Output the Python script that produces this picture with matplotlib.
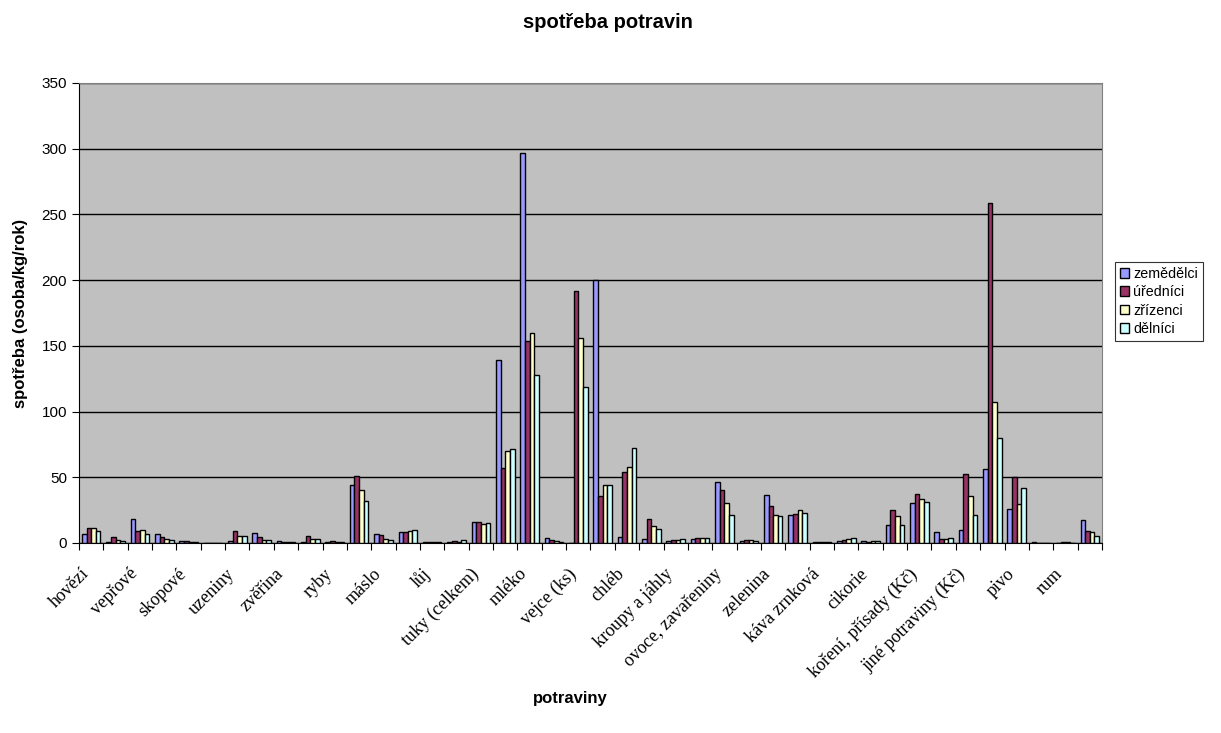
import matplotlib
matplotlib.use('Agg')
import matplotlib.pyplot as plt
import matplotlib.transforms as mtransforms
import numpy as np

plt.rcParams['font.family'] = ['Liberation Sans', 'DejaVu Sans']

# labels only on every other category, as in the source
labels = ['hovězí', 'vepřové', 'skopové', 'uzeniny', 'zvěřina', 'ryby', 'máslo',
          'lůj', 'tuky (celkem)', 'mléko', 'vejce (ks)', 'chléb', 'kroupy a jáhly',
          'ovoce, zavařeniny', 'zelenina', 'káva zrnková', 'cikorie',
          'koření, přísady (Kč)', 'jiné potraviny (Kč)', 'pivo', 'rum']

zemedelci = [7, 0.8, 18.5, 6.6, 1.5, 0.2, 1.8, 7.9, 1.2, 0.7, 0.5, 44.4, 6.9, 8.1,
             0.5, 0.8, 16, 139, 297, 4, 0, 200, 4.3, 3.3, 1.8, 2.8, 46.7, 1.8, 36.5,
             21.6, 0.5, 1.8, 1.5, 14, 30.7, 8.4, 10.2, 56.6, 25.6, 0.5, 0.3, 17.8]
urednici = [11.7, 4.3, 9.1, 4.3, 1.3, 0.3, 9.1, 4.3, 1, 5.3, 1.8, 50.8, 5.8, 8.1,
            0.5, 1.8, 16, 57.4, 154, 2, 191.7, 36, 53.8, 18.3, 2, 3.5, 40.1, 2, 28.2,
            21.8, 1, 2, 1, 25.4, 37, 3, 52.8, 259, 50.3, 0.3, 0.4, 9.1]
zrizenci = [11.7, 2.3, 10.2, 3, 1, 0.3, 5, 2.5, 1, 3.3, 1, 40.1, 3.3, 9.1,
            0.5, 1, 14.5, 70, 159.5, 1.3, 156, 44.4, 58.1, 12.9, 2.5, 3.8, 30.7, 2.3, 21.1,
            25.1, 1, 3, 1.3, 20.3, 33.2, 3.2, 36, 107, 29.7, 0.3, 0.4, 8.6]
delnici = [8.9, 1.8, 7.1, 2, 0.8, 0.3, 5.3, 2, 0.8, 2.8, 0.7, 32, 2.5, 10.2,
           0.5, 2.5, 15.5, 71.3, 128, 1, 118.5, 43.9, 72.6, 10.7, 3, 3.8, 21.3, 1.8, 20.3,
           22.6, 0.8, 3.8, 1.3, 14, 31.2, 3.9, 21.6, 80.2, 41.9, 0.3, 0.3, 5.3]

series = [('zemědělci', zemedelci, '#9999FF'),
          ('úředníci', urednici, '#993366'),
          ('zřízenci', zrizenci, '#FFFFCC'),
          ('dělníci', delnici, '#CCFFFF')]

n = len(zemedelci)
index = np.arange(n)
bar_width = 0.19

fig = plt.figure(figsize=(12.21, 7.33), dpi=100)
ax = fig.add_axes([79/1221, 190/733, 1023/1221, 460/733])
ax.set_facecolor('#C0C0C0')

for i, (name, vals, color) in enumerate(series):
    ax.bar(index + (i - 1.5) * bar_width, vals, bar_width, color=color,
           edgecolor='black', linewidth=1.0, label=name, zorder=3)

ax.set_xlim(-0.5, n - 0.5)
ax.set_ylim(0, 350)
ax.set_yticks(np.arange(0, 351, 50))
ax.yaxis.grid(True, color='black', linewidth=1.0, zorder=1)

# tick marks at category boundaries, labels at centres
ax.set_xticks(np.arange(n + 1) - 0.5)
ax.set_xticklabels([])
ax.set_xticks(index, minor=True)
tick_labels = [labels[i // 2] if i % 2 == 0 else '' for i in range(n)]
ax.set_xticklabels(tick_labels, minor=True, rotation=45, ha='right',
                   rotation_mode='anchor', fontfamily='Liberation Serif', fontsize=13)
ax.tick_params(axis='x', which='minor', length=0, pad=6)
ax.tick_params(axis='x', which='major', direction='out', length=5, color='black')
ax.tick_params(axis='y', direction='out', length=5, labelsize=11)

# nudge the rotated labels so their ends sit under the category centres
offset = mtransforms.ScaledTranslation(-0.11, -0.14, fig.dpi_scale_trans)
for lab in ax.xaxis.get_minorticklabels():
    lab.set_transform(lab.get_transform() + offset)

for side in ['top', 'right']:
    ax.spines[side].set_color('#808080')
for side in ['left', 'bottom']:
    ax.spines[side].set_color('black')

ax.set_xlabel('potraviny', fontweight='bold', fontsize=12)
ax.xaxis.set_label_coords(0.48, -0.322)
ax.set_ylabel('spotřeba (osoba/kg/rok)', fontweight='bold', fontsize=12, labelpad=10)
fig.text(0.498, 1 - 22/733, 'spotřeba potravin', ha='center', va='center',
         fontweight='bold', fontsize=14.5)

leg = fig.legend(loc='upper left', bbox_to_anchor=(1115/1221, 1 - 262/733),
                 fontsize=10.3, frameon=True, fancybox=False, edgecolor='black',
                 handlelength=0.65, handleheight=0.65, handletextpad=0.25,
                 borderpad=0.35, labelspacing=0.3, borderaxespad=0)
leg.get_frame().set_linewidth(0.8)

fig.savefig('out.png', dpi=100, facecolor='white')
